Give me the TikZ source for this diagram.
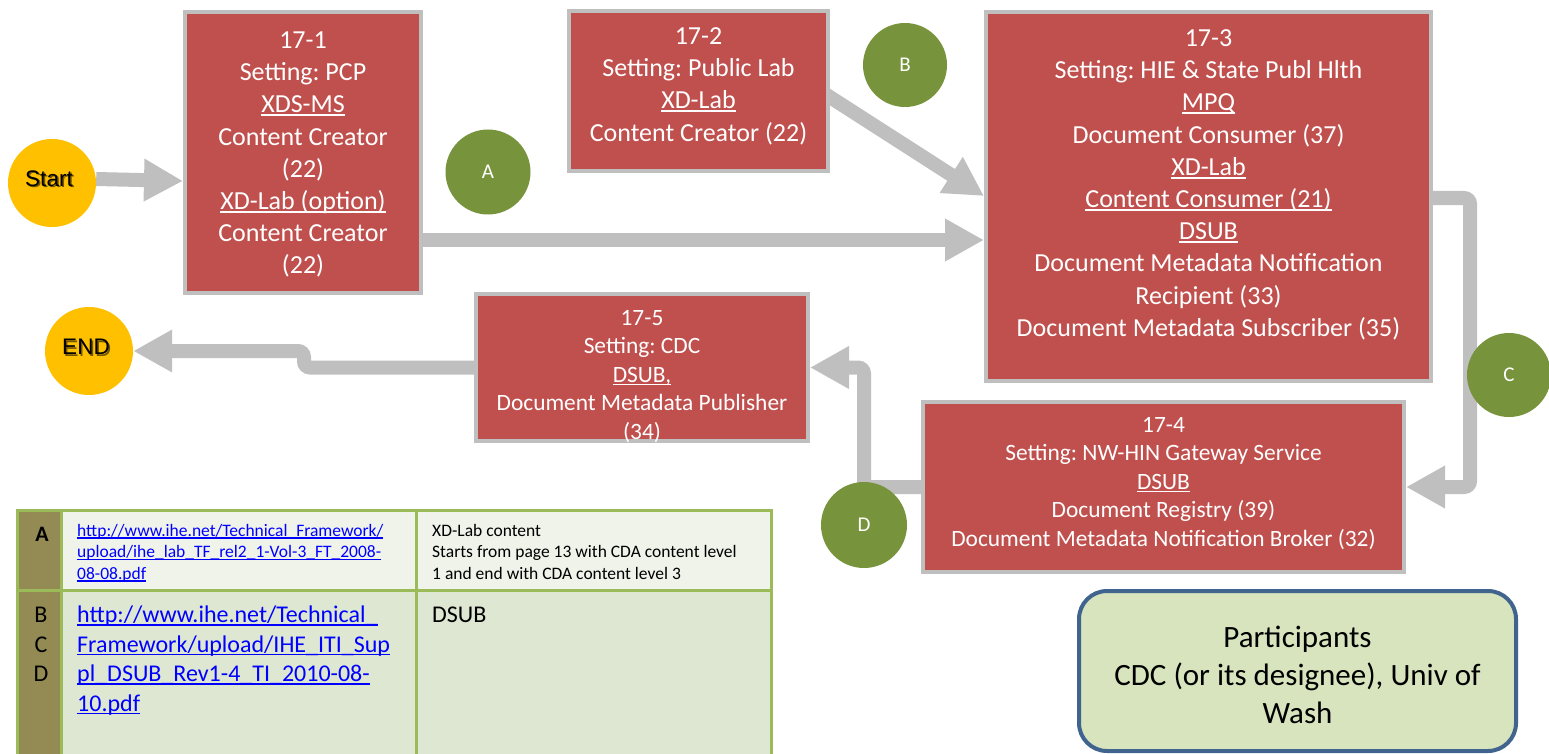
\documentclass[tikz,border=0pt]{standalone}
\usepackage{fontspec}
\setmainfont{Carlito}
\newfontfamily\arialf{Liberation Sans}
\usetikzlibrary{arrows.meta,calc}
\pgfdeclarelayer{bg}
\pgfsetlayers{bg,main}
\frenchspacing
\definecolor{boxred}{HTML}{C0504D}
\definecolor{boxgray}{HTML}{BFBFBF}
\definecolor{arrgray}{HTML}{BFBFBF}
\definecolor{amber}{HTML}{FFC000}
\definecolor{olivegreen}{HTML}{77933C}
\definecolor{tblborder}{HTML}{9BBB59}
\definecolor{tblolive}{HTML}{948A54}
\definecolor{tbllight}{HTML}{EFF3EA}
\definecolor{tblmid}{HTML}{DEE7D1}
\definecolor{partfill}{HTML}{D7E4BD}
\definecolor{partline}{HTML}{41648F}
\definecolor{linkblue}{HTML}{0000FF}
\newsavebox\ulbox
\newcommand{\uln}[1]{\leavevmode\sbox\ulbox{#1}\rlap{\rule[-0.13em]{\wd\ulbox}{0.07em}}\usebox\ulbox}
\newcommand{\shadowtxt}[1]{\rlap{\kern1.5pt\raisebox{-1.5pt}{\textcolor{black!55!amber}{#1}}}#1}
\begin{document}
\begin{tikzpicture}[x=1pt,y=-1pt,
  redbox/.style={draw=boxgray, line width=4pt, fill=boxred, rectangle, inner sep=0pt},
  boxtxt/.style={text=white, align=center, inner sep=0pt, anchor=north, font=\fontsize{26}{32.2}\selectfont},
  boxtxtsm/.style={boxtxt, font=\fontsize{23.4}{28.4}\selectfont},
  ycirc/.style={circle, fill=amber, minimum size=88pt, inner sep=0pt},
  yclbl/.style={inner sep=0pt, font=\arialf\fontsize{22.5}{27}\selectfont},
  gcirc/.style={circle, fill=olivegreen, inner sep=0pt, text=white, font=\fontsize{21}{25}\selectfont},
  arr/.style={draw=arrgray, line width=14pt, -{Triangle[width=40pt,length=39pt]}},
  tbla/.style={anchor=north west, inner sep=0pt, align=left, font=\fontsize{17.5}{21.5}\selectfont},
  tblb/.style={anchor=north west, inner sep=0pt, align=left, font=\fontsize{24}{29.5}\selectfont}
]
\useasboundingbox (0,0) rectangle (1549,754);

% process boxes
\node[redbox, minimum width=236pt, minimum height=281pt] (b1) at (303,152.5) {};
\node[redbox, minimum width=259pt, minimum height=160pt] (b2) at (698.5,91) {};
\node[redbox, minimum width=445pt, minimum height=369pt] (b3) at (1208.5,196.5) {};
\node[redbox, minimum width=481pt, minimum height=170pt] (b4) at (1163.5,487) {};
\node[redbox, minimum width=332pt, minimum height=147pt] (b5) at (642,367.5) {};

\node[boxtxt] (t1) at (303,25.7) {\strut 17-1\\Setting: PCP\\\uln{XDS-MS}\\Content Creator\\(22)\\\uln{XD-Lab (option)}\\Content Creator\\(22)};
\node[boxtxt] (t2) at (698.5,21.7) {\strut 17-2\\Setting: Public Lab\\\uln{XD-Lab}\\Content Creator (22)};
\node[boxtxt] (t3) at (1208.5,23.7) {\strut 17-3\\Setting: HIE \& State Publ Hlth\\\uln{MPQ}\\Document Consumer (37)\\\uln{XD-Lab}\\\uln{Content Consumer (21)}\\\uln{DSUB}\\Document Metadata Notification\\Recipient (33)\\Document Metadata Subscriber (35)};
\node[boxtxtsm] (t4) at (1163.5,412.5) {\strut 17-4\\Setting: NW-HIN Gateway Service\\\uln{DSUB}\\Document Registry (39)\\Document Metadata Notification Broker (32)};
\node[boxtxtsm] (t5) at (642,305.5) {\strut 17-5\\Setting: CDC\\\uln{DSUB,}\\Document Metadata Publisher\\(34)};

% start / end
\node[ycirc] (start) at (52,183) {};
\node[yclbl] (startlbl) at (49,179.5) {\shadowtxt{Start}};
\node[ycirc] (end) at (89,351) {};
\node[yclbl] (endlbl) at (86,348) {\shadowtxt{END}};

% reference circles
\node[gcirc, minimum size=85pt] (A) at (488,172) {A};
\node[gcirc, minimum size=84pt] (B) at (905,65) {B};
\node[gcirc, minimum size=84pt] (C) at (1509,375) {C};
\node[gcirc, minimum size=86pt] (D) at (864,525) {D};

% connectors
\begin{pgfonlayer}{bg}
\draw[arr] ($(start.east)+(0,-4)$) -- ($(b1.north west)+(0,171)$);
\draw[arr] ($(b1.north east)+(-5,230)$) -- ($(b3.north west)+(0,230)$);
\draw[arr] ($(b2.north east)+(-12,80.4)$) -- ($(b3.north west)+(0,186)$);
\draw[arr, rounded corners=6pt] ($(b3.north east)+(-5,188)$) -- (1470,198) -- (1470,487) -- (b4.east);
\draw[arr, rounded corners=6pt] ($(b4.west)+(5,0)$) -- (b4.west -| D.center) -- (D.center |- b5.east) -- (b5.east);
\draw[arr, rounded corners=6pt] ($(b5.west)+(5,0)$) -- (304,367.5) -- (304,351) -- (end.east);
\end{pgfonlayer}

% reference table
\fill[tblolive] (17,510) rectangle (61,754);
\fill[tbllight] (61,510) rectangle (771,590);
\fill[tblmid] (61,590) rectangle (771,754);
\draw[tblborder, line width=3pt] (17,754) -- (17,510) -- (771,510) -- (771,754);
\draw[tblborder, line width=3pt] (17,590) -- (771,590);
\draw[tblborder, line width=3pt] (61,510) -- (61,754) (416,510) -- (416,754);

\node[inner sep=0pt, font=\bfseries\fontsize{22}{26}\selectfont] (lblA) at (42,534) {A};
\node[inner sep=0pt, align=center, anchor=north, font=\fontsize{24}{29.5}\selectfont] (lblBCD) at (41,602) {\strut B\\C\\D};
\node[tbla, text=linkblue] (linkA) at (77,521) {\strut\uln{http://www.ihe.net/Technical\_Framework/}\\\uln{upload/ihe\_lab\_TF\_rel2\_1-Vol-3\_FT\_2008-}\\\uln{08-08.pdf}};
\node[tbla] (descA) at (432,521) {\strut XD-Lab content\\Starts from page 13 with CDA content level\\1 and end with CDA content level 3};
\node[tblb, text=linkblue] (linkB) at (77,602) {\strut\uln{http://www.ihe.net/Technical\_}\\\uln{Framework/upload/IHE\_ITI\_Sup}\\\uln{pl\_DSUB\_Rev1-4\_TI\_2010-08-}\\\uln{10.pdf}};
\node[tblb] (descB) at (432,602) {\strut DSUB};

% participants
\node[draw=partline, fill=partfill, line width=4pt, rounded corners=28pt, minimum width=437pt, minimum height=160pt, inner sep=0pt] (part) at (1297.5,671) {};
\node[inner sep=0pt, align=center, anchor=north, font=\fontsize{31}{38}\selectfont] (parttxt) at (1297.5,620.4) {\strut Participants\\CDC (or its designee), Univ of\\Wash};
\end{tikzpicture}
\end{document}
